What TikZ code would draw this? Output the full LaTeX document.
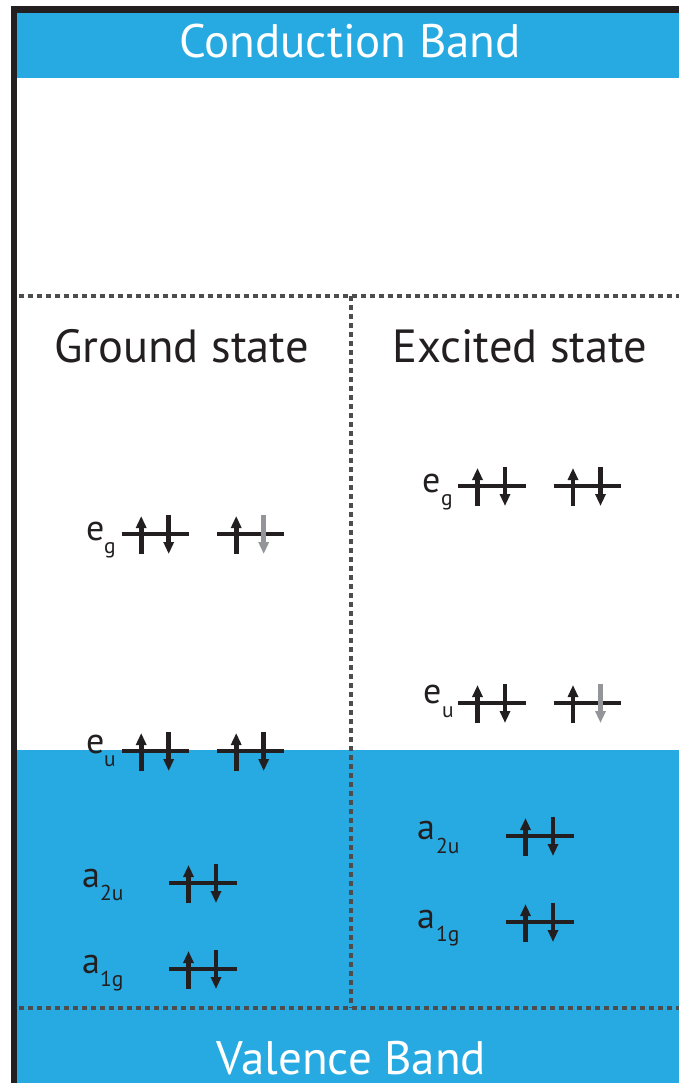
\documentclass[tikz,border=0pt]{standalone}
\usepackage{fontspec}
\setmainfont{PT Sans}
\usetikzlibrary{arrows.meta}
\definecolor{cyanb}{HTML}{27AAE1}
\definecolor{ink}{HTML}{231F20}
\definecolor{spingray}{HTML}{939598}
\definecolor{dotgray}{HTML}{4D4D4F}
\newcommand\orblevel[3]{%
  \draw[levelline] (#1,#2) -- ++(67.5,0);
  \draw[spinline] (#1+19.5,#2+20) -- (#1+19.5,#2-18);
  \draw[spinline,#3] (#1+47,#2-19) -- (#1+47,#2+20);}
\begin{document}
\begin{tikzpicture}[x=1pt,y=-1pt,
  levelline/.style={ink,line width=4.6pt},
  spinline/.style={ink,line width=4.6pt,-{Triangle[width=10pt,length=12pt]}},
  dotline/.style={dotgray,line width=3.6pt,dash pattern=on 5pt off 4pt},
  title/.style={inner sep=0pt,anchor=base,font=\fontsize{47}{52}\selectfont},
  stitle/.style={inner sep=0pt,anchor=base,font=\fontsize{46.5}{52}\selectfont},
  lab/.style={ink,inner sep=0pt,anchor=base west,font=\fontsize{36}{40}\selectfont},
  sublab/.style={ink,inner sep=0pt,anchor=base west,font=\fontsize{21.5}{25}\selectfont}]
\useasboundingbox (0,0) rectangle (679,1083);
\fill[white] (0,0) rectangle (679,1083);
% bands
\fill[cyanb] (17,13.3) rectangle (679,78.3);
\fill[cyanb] (17,750) rectangle (679,1083);
% frame
\fill[ink] (10.7,6.5) rectangle (17.3,1083);
\fill[ink] (10.7,6.5) rectangle (679,13.3);
% dotted separators
\draw[dotline] (19,296) -- (679,296);
\draw[dotline] (351,296) -- (351,1008);
\draw[dotline] (19,1008) -- (679,1008);
% titles
\node[title,white] (cb) at (350,58) {Conduction Band};
\node[title,white] (vb) at (351.5,1074) {Valence Band};
\node[stitle,ink] (gs) at (181.5,362) {Ground state};
\node[stitle,ink] (es) at (520,362) {Excited state};
% ground state levels
\orblevel{121.7}{534}{}
\orblevel{216.7}{534}{spingray}
\orblevel{121.7}{751}{}
\orblevel{216.7}{751}{}
\orblevel{169}{883}{}
\orblevel{169}{969}{}
% excited state levels
\orblevel{458}{486}{}
\orblevel{553.5}{486}{}
\orblevel{458}{703}{}
\orblevel{553.5}{703}{spingray}
\orblevel{506}{836}{}
\orblevel{506}{922}{}
% labels
\node[lab] (geg) at (86,540) {e};  \node[sublab] (gegs) at (104,553) {g};
\node[lab] (geu) at (86,753) {e};  \node[sublab] (geus) at (104,766) {u};
\node[lab] (ga2) at (82,887) {a};  \node[sublab] (ga2s) at (100,900) {2u};
\node[lab] (ga1) at (82,973) {a};  \node[sublab] (ga1s) at (100,986) {1g};
\node[lab] (eeg) at (422,492) {e}; \node[sublab] (eegs) at (441,505) {g};
\node[lab] (eeu) at (423,703) {e}; \node[sublab] (eeus) at (442,717) {u};
\node[lab] (ea2) at (417,839) {a}; \node[sublab] (ea2s) at (436,853) {2u};
\node[lab] (ea1) at (417,928) {a}; \node[sublab] (ea1s) at (436,941) {1g};
\end{tikzpicture}
\end{document}
